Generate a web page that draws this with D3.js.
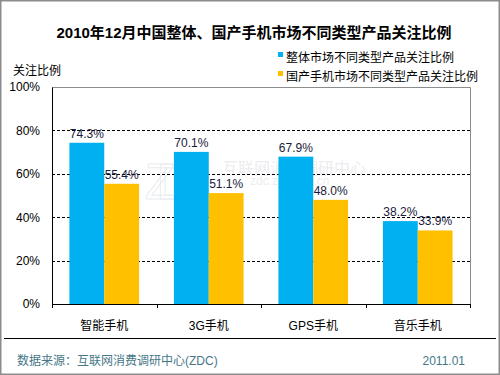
<!DOCTYPE html>
<html>
<head>
<meta charset="utf-8">
<script src="https://cdn.jsdelivr.net/npm/d3@7"></script>
<style>
  body { margin: 0; background: #fff; }
  text { font-family: Arial, "Liberation Sans", "Noto Sans CJK SC", sans-serif; }
</style>
</head>
<body>
<div id="chart"></div>
<script>
// chart data
const categories = ["智能手机", "3G手机", "GPS手机", "音乐手机"];
const seriesNames = ["整体市场不同类型产品关注比例", "国产手机市场不同类型产品关注比例"];
const overall = [74.3, 70.1, 67.9, 38.2];
const domestic = [55.4, 51.1, 48.0, 33.9];
const yTicks = [0, 20, 40, 60, 80, 100];
const colors = ["#00B0F0", "#FFC000"];

function drawChart() {
    const W = 500, H = 375;
    const margin = {top: 87, right: 30, bottom: 71, left: 52},
        width = W - margin.left - margin.right,
        height = H - margin.top - margin.bottom;

    const root = d3.select("#chart").append("svg")
        .attr("width", W)
        .attr("height", H);

    // outer grey frame
    root.append("rect")
        .attr("x", 0.75).attr("y", 0.75)
        .attr("width", W - 1.5).attr("height", H - 1.5)
        .attr("fill", "#fff")
        .attr("stroke", "#8c8c8c")
        .attr("stroke-width", 1.5);

    // title
    root.append("text")
        .attr("x", 254).attr("y", 38)
        .attr("text-anchor", "middle")
        .style("font-size", "15px")
        .style("font-weight", "bold")
        .text("2010年12月中国整体、国产手机市场不同类型产品关注比例");

    // legend
    const legend = root.append("g").attr("transform", "translate(278,52)");
    seriesNames.forEach((name, i) => {
        legend.append("rect")
            .attr("x", 0).attr("y", i * 19)
            .attr("width", 5).attr("height", 5)
            .attr("fill", colors[i]);
        legend.append("text")
            .attr("x", 8).attr("y", i * 19 + 10)
            .style("font-size", "12px")
            .text(name);
    });

    // y axis title
    root.append("text")
        .attr("x", 13).attr("y", 75)
        .style("font-size", "12px")
        .text("关注比例");

    const svg = root.append("g")
        .attr("transform", `translate(${margin.left},${margin.top})`);

    // faint watermark
    const wm = svg.append("g").attr("opacity", 0.22);
    wm.append("text")
        .attr("x", 93).attr("y", 112)
        .style("font-size", "50px")
        .attr("fill", "none")
        .attr("stroke", "#9ab")
        .attr("stroke-width", 1)
        .attr("textLength", 64)
        .text("ZDC");
    wm.append("text")
        .attr("x", 170).attr("y", 87)
        .style("font-size", "16px")
        .attr("fill", "#aab")
        .text("互联网消费调研中心");
    wm.append("text")
        .attr("x", 198).attr("y", 98)
        .style("font-size", "12px")
        .attr("fill", "#aab")
        .text("zdc.zol.com.cn");

    const x = d3.scaleBand()
        .domain(categories)
        .range([0, width]);

    const sub = d3.scaleBand()
        .domain([0, 1])
        .range([0, x.bandwidth()])
        .paddingOuter(0.5)
        .paddingInner(0);

    const y = d3.scaleLinear()
        .domain([0, 100])
        .range([height, 0]);

    // plot frame (top and right)
    svg.append("path")
        .attr("d", `M0,0.5H${width + 0.5}V${height}`)
        .attr("fill", "none")
        .attr("stroke", "#8c8c8c")
        .attr("stroke-width", 1);

    // dashed gridlines
    svg.selectAll(".grid")
        .data(yTicks.filter(t => t > 0 && t < 100))
        .enter()
        .append("line")
        .attr("x1", 0).attr("x2", width)
        .attr("y1", d => Math.round(y(d)) + 0.5)
        .attr("y2", d => Math.round(y(d)) + 0.5)
        .attr("stroke", "#000")
        .attr("stroke-dasharray", "3,2");

    // bars
    const data = categories.map((c, i) => ({cat: c, vals: [overall[i], domestic[i]]}));
    const groups = svg.selectAll(".grp")
        .data(data)
        .enter()
        .append("g")
        .attr("transform", d => `translate(${x(d.cat)},0)`);

    groups.selectAll("rect")
        .data(d => d.vals.map((v, k) => ({v, k})))
        .enter()
        .append("rect")
        .attr("x", d => sub(d.k))
        .attr("y", d => y(d.v))
        .attr("width", sub.bandwidth())
        .attr("height", d => height - y(d.v))
        .attr("fill", d => colors[d.k]);

    groups.selectAll(".lbl")
        .data(d => d.vals.map((v, k) => ({v, k})))
        .enter()
        .append("text")
        .attr("x", d => sub(d.k) + sub.bandwidth() / 2)
        .attr("y", d => y(d.v) - 5)
        .attr("text-anchor", "middle")
        .style("font-size", "12px")
        .attr("fill", "#1a1a3a")
        .text(d => d.v.toFixed(1) + "%");

    // y axis
    const yAxis = svg.append("g")
        .call(d3.axisLeft(y).tickValues(yTicks).tickFormat(d => d + "%").tickSize(0).tickPadding(12));
    yAxis.select(".domain").attr("stroke", "#000");
    yAxis.selectAll("text").style("font-size", "12px").attr("fill", "#000");

    // x axis
    const xAxis = svg.append("g")
        .attr("transform", `translate(0,${height})`)
        .call(d3.axisBottom(x).tickSize(0).tickPadding(17));
    xAxis.select(".domain").attr("stroke", "#000");
    xAxis.selectAll("text").style("font-size", "12px").attr("fill", "#000");
    xAxis.selectAll(".sep")
        .data(d3.range(categories.length + 1))
        .enter()
        .append("line")
        .attr("x1", i => Math.round(i * x.step()) + 0.5)
        .attr("x2", i => Math.round(i * x.step()) + 0.5)
        .attr("y1", 0).attr("y2", 4)
        .attr("stroke", "#000");

    // footer
    root.append("line")
        .attr("x1", 4).attr("x2", 496)
        .attr("y1", 338.5).attr("y2", 338.5)
        .attr("stroke", "#000");
    root.append("text")
        .attr("x", 17).attr("y", 365)
        .style("font-size", "12px")
        .attr("fill", "#467789")
        .text("数据来源：互联网消费调研中心(ZDC)");
    root.append("text")
        .attr("x", 465).attr("y", 365)
        .attr("text-anchor", "end")
        .style("font-size", "12px")
        .attr("fill", "#467789")
        .text("2011.01");
}

drawChart();
</script>
</body>
</html>
